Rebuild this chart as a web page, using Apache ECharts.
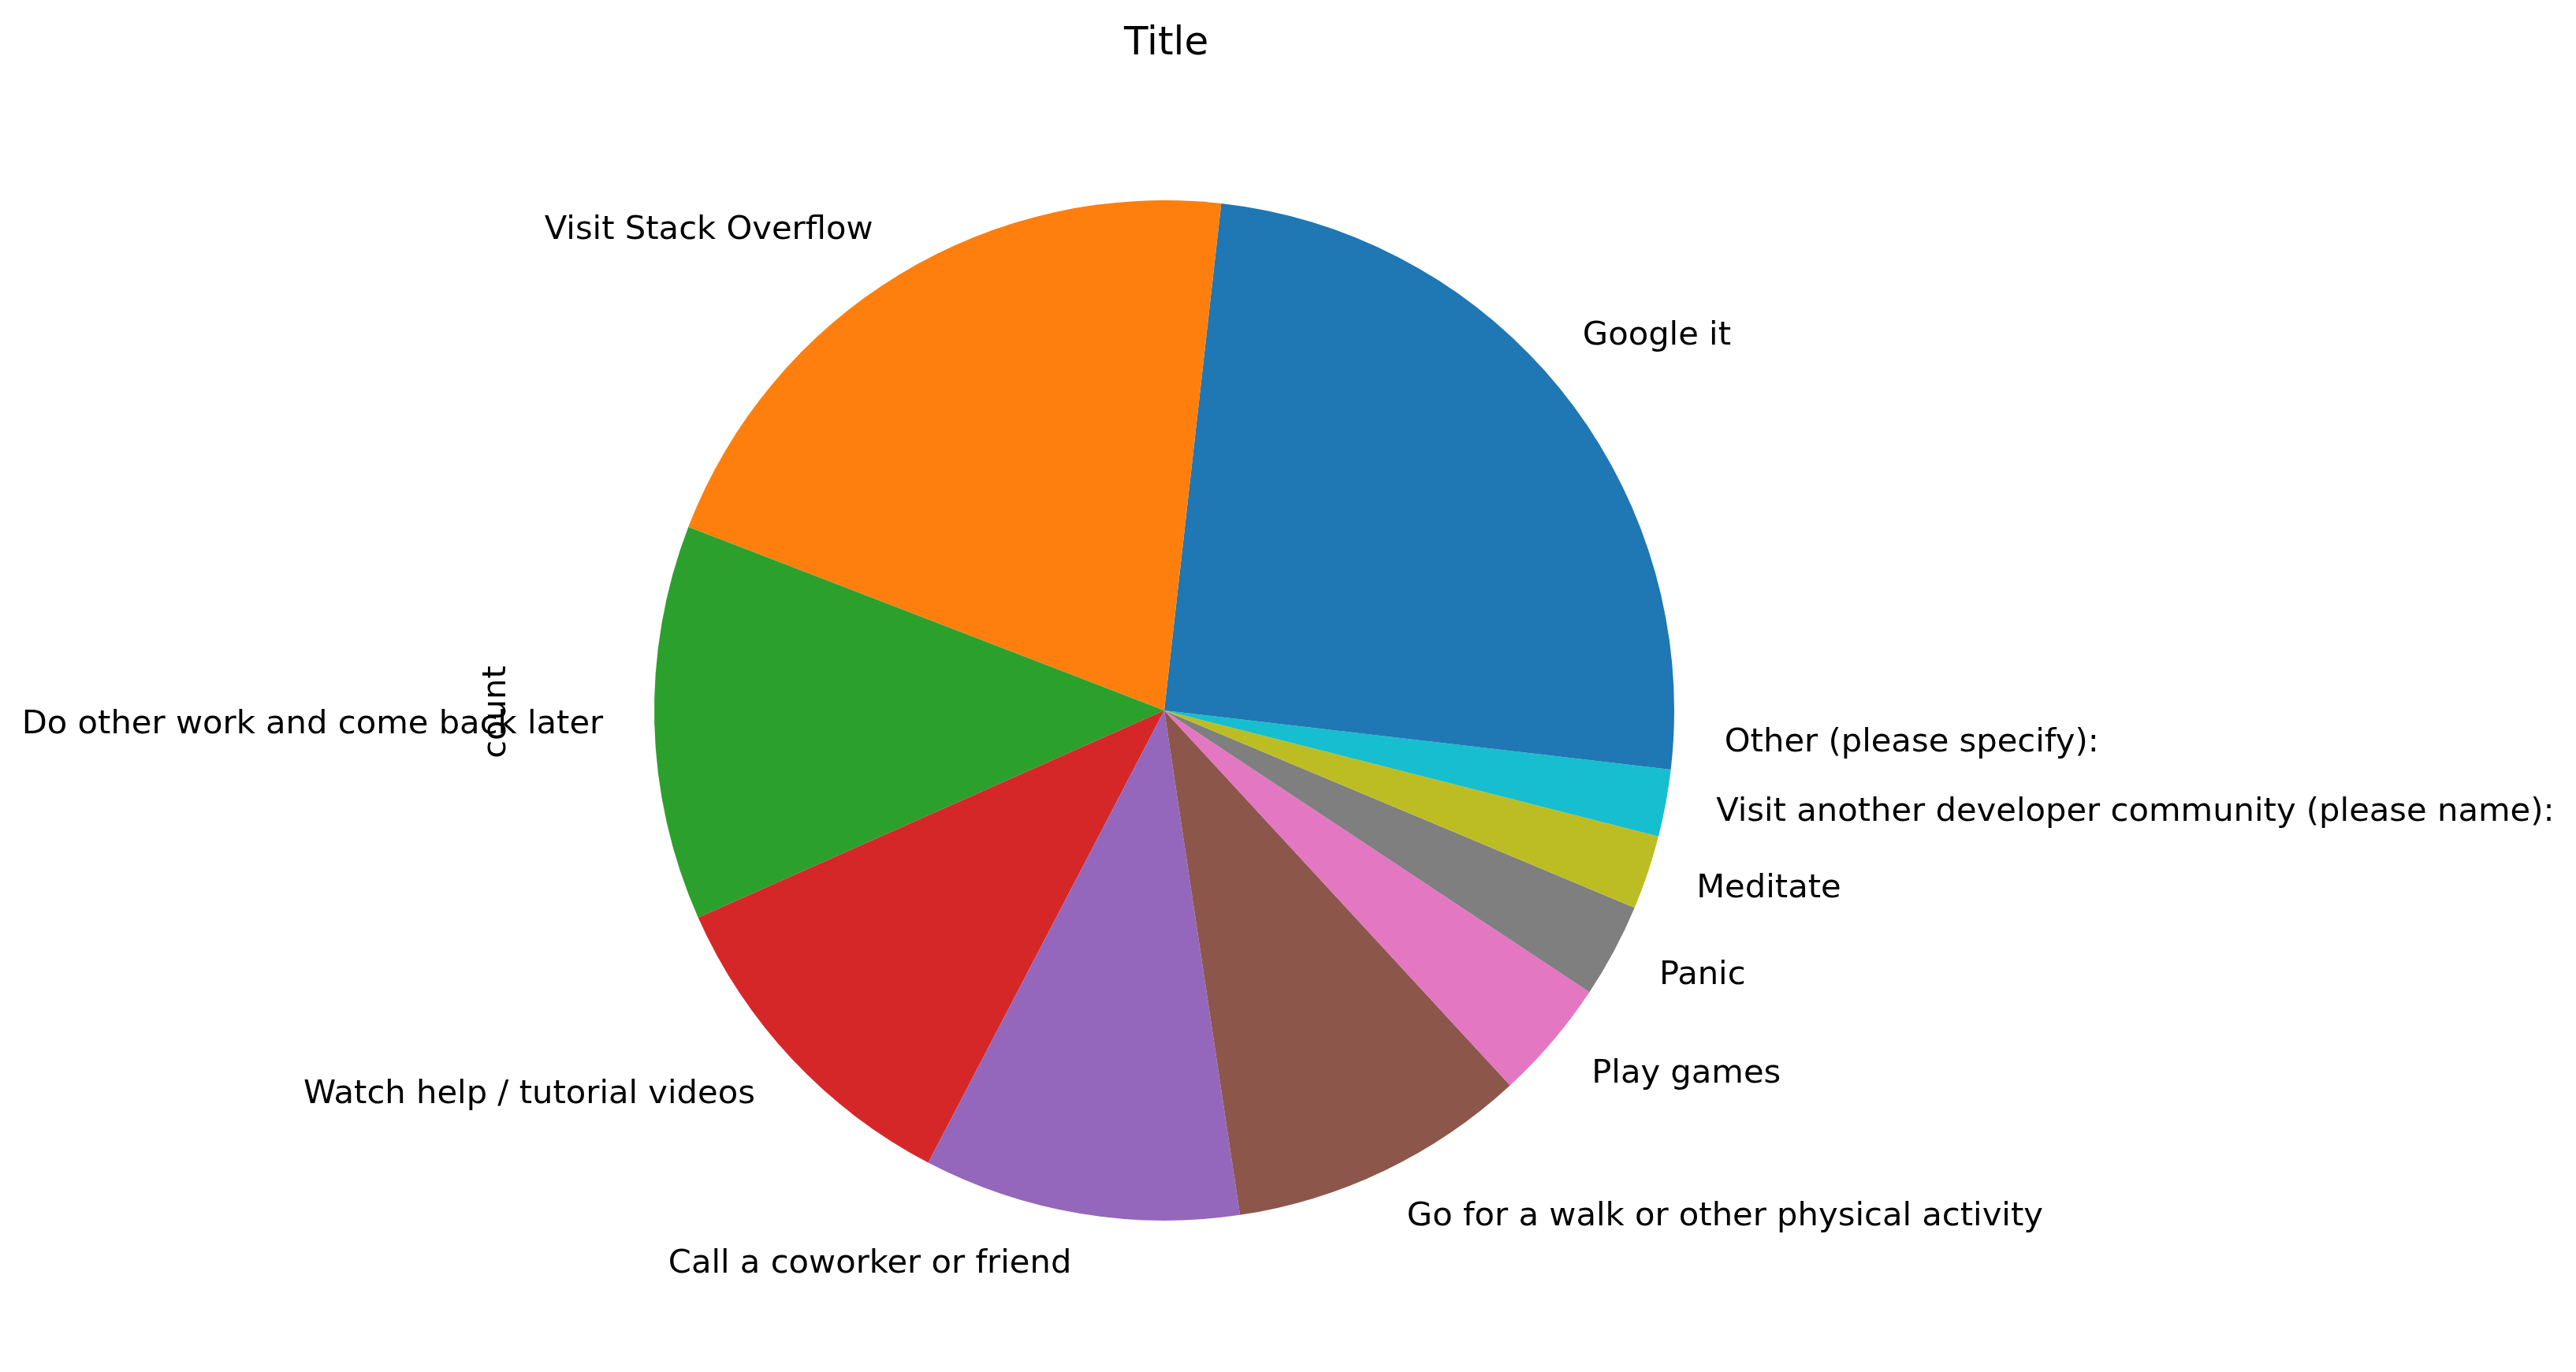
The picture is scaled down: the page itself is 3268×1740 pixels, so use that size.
<!DOCTYPE html>
<html>
<head>
<meta charset="utf-8">
<script src="https://cdn.jsdelivr.net/npm/echarts@6/dist/echarts.min.js"></script>
<style>
  html, body { margin: 0; padding: 0; background: #fff; }
  #chart { width: 3268px; height: 1740px; }
</style>
</head>
<body>
<div id="chart"></div>
<script>
// categories and counts
var categories = [
  'Google it',
  'Visit Stack Overflow',
  'Do other work and come back later',
  'Watch help / tutorial videos',
  'Call a coworker or friend',
  'Go for a walk or other physical activity',
  'Play games',
  'Panic',
  'Meditate',
  'Visit another developer community (please name):',
  'Other (please specify):'
];
var counts = [2322, 2093, 1251, 1069, 1003, 949, 383, 299, 235, 212, 185];

// matplotlib tab10, cycles back to blue for the 11th slice
var colors = ['#1f77b4', '#ff7f0e', '#2ca02c', '#d62728', '#9467bd',
  '#8c564b', '#e377c2', '#7f7f7f', '#bcbd22', '#17becf', '#1f77b4'];

var font = 'DejaVu Sans';

var pieData = [];
for (var i = 0; i < categories.length; i++) {
  pieData.push({ name: categories[i], value: counts[i], itemStyle: { color: colors[i] } });
}

var chart = echarts.init(document.getElementById('chart'));

var option = {
  backgroundColor: '#fff',
  animation: false,
  title: {
    text: 'Title',
    left: 1421,
    top: 26,
    textStyle: { fontFamily: font, fontSize: 50, fontWeight: 'normal', color: '#000' }
  },
  graphic: [{
    type: 'text',
    x: 630,
    y: 903,
    rotation: Math.PI / 2,
    style: {
      text: 'count',
      fontFamily: font,
      fontSize: 41.7,
      fill: '#000',
      align: 'center',
      verticalAlign: 'middle'
    }
  }],
  series: [{
    type: 'pie',
    center: [1477, 901],
    radius: 647,
    startAngle: 0,
    clockwise: false,
    avoidLabelOverlap: false,
    itemStyle: { borderWidth: 0 },
    label: {
      show: true,
      position: 'outside',
      distanceToLabelLine: 0,
      color: '#000',
      fontFamily: font,
      fontSize: 41.7
    },
    labelLine: { show: false, length: 65, length2: 0 },
    emphasis: { disabled: true },
    data: pieData
  }]
};

chart.setOption(option);
</script>
</body>
</html>
